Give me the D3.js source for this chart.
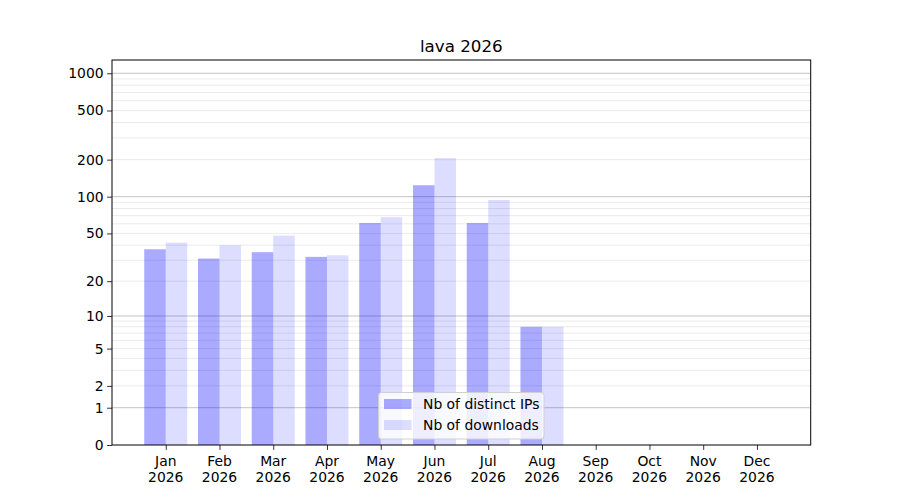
<!DOCTYPE html>
<html>
<head>
<meta charset="utf-8">
<script src="https://cdn.jsdelivr.net/npm/d3@7"></script>
<style>
  body { margin: 0; background: #fff; }
  svg { display: block; font-family: "DejaVu Sans", sans-serif; }
</style>
</head>
<body>
<svg id="chart" width="900" height="500"></svg>
<script>
const title = "lava 2026";
const months = ["Jan", "Feb", "Mar", "Apr", "May", "Jun", "Jul", "Aug", "Sep", "Oct", "Nov", "Dec"];
const yearLabel = "2026";
const distinctIPs = [37, 31, 35, 32, 61, 124, 61, 8, 0, 0, 0, 0];
const downloads = [42, 40, 48, 33, 68, 206, 94, 8, 0, 0, 0, 0];
const yTicks = [0, 1, 2, 5, 10, 20, 50, 100, 200, 500, 1000];
const majorGrid = [1, 10, 100, 1000];
const minorGrid = [2,3,4,5,6,7,8,9,20,30,40,50,60,70,80,90,200,300,400,500,600,700,800,900];
const seriesNames = ["Nb of distinct IPs", "Nb of downloads"];

const pLeft = 112, pRight = 810.7, pTop = 60, pBottom = 445;
const svg = d3.select("#chart");

const x = d3.scaleLinear().domain([-1, 12]).range([pLeft, pRight]);
const y = d3.scaleSymlog().constant(1).domain([0, 1280]).range([pBottom, pTop]);
const barW = 0.4;

// grid
svg.append("g").selectAll("line").data(minorGrid).join("line")
  .attr("x1", pLeft).attr("x2", pRight)
  .attr("y1", d => y(d)).attr("y2", d => y(d))
  .attr("stroke", "#ebebeb").attr("stroke-width", 1);
svg.append("g").selectAll("line").data(majorGrid).join("line")
  .attr("x1", pLeft).attr("x2", pRight)
  .attr("y1", d => y(d)).attr("y2", d => y(d))
  .attr("stroke", "#c4c4c4").attr("stroke-width", 1);

// bars
svg.append("g").selectAll("rect").data(distinctIPs).join("rect")
  .attr("x", (d, i) => x(i - barW))
  .attr("width", (d, i) => x(i) - x(i - barW))
  .attr("y", d => y(d))
  .attr("height", d => y(0) - y(d))
  .attr("fill", "#0000ff").attr("fill-opacity", 1/3);
svg.append("g").selectAll("rect").data(downloads).join("rect")
  .attr("x", (d, i) => x(i))
  .attr("width", (d, i) => x(i + barW) - x(i))
  .attr("y", d => y(d))
  .attr("height", d => y(0) - y(d))
  .attr("fill", "#0000ff").attr("fill-opacity", 0.133);

// axes
const yAxis = d3.axisLeft(y).tickValues(yTicks).tickFormat(d3.format("d")).tickSize(4.9).tickPadding(3.5);
const gy = svg.append("g").attr("transform", `translate(${pLeft},0)`).call(yAxis);
gy.select(".domain").remove();
gy.selectAll("text").attr("font-size", "13.9px").attr("fill", "#000").attr("font-family", "DejaVu Sans");
gy.selectAll("line").attr("stroke", "#000").attr("stroke-width", 0.8);

const xAxis = d3.axisBottom(x).tickValues(d3.range(12)).tickFormat("").tickSize(4.9);
const gx = svg.append("g").attr("transform", `translate(0,${pBottom})`).call(xAxis);
gx.select(".domain").remove();
gx.selectAll("line").attr("stroke", "#000").attr("stroke-width", 0.8);
const lbl = svg.append("g").selectAll("text").data(months).join("text")
  .attr("x", (d, i) => x(i)).attr("y", 466)
  .attr("text-anchor", "middle").attr("font-size", "13.9px").attr("fill", "#000");
lbl.append("tspan").attr("x", (d, i) => x(i)).attr("dy", 0).text(d => d);
lbl.append("tspan").attr("x", (d, i) => x(i)).attr("dy", 16).text(yearLabel);

// frame
svg.append("rect").attr("x", pLeft).attr("y", pTop).attr("width", pRight - pLeft).attr("height", pBottom - pTop)
  .attr("fill", "none").attr("stroke", "#000").attr("stroke-width", 1);

// title
svg.append("text").attr("x", (pLeft + pRight) / 2).attr("y", 52)
  .attr("text-anchor", "middle").attr("font-size", "16.7px").attr("fill", "#000").text(title);

// legend
const lg = svg.append("g");
lg.append("rect").attr("x", 378.5).attr("y", 392.5).attr("width", 165.5).attr("height", 46.5).attr("rx", 3)
  .attr("fill", "#fff").attr("fill-opacity", 0.8).attr("stroke", "#d0d0d0").attr("stroke-width", 1);
const legOps = [1/3, 0.133];
seriesNames.forEach((n, i) => {
  lg.append("rect").attr("x", 384).attr("y", 399 + i * 21).attr("width", 27.5).attr("height", 10)
    .attr("fill", "#0000ff").attr("fill-opacity", legOps[i]);
  lg.append("text").attr("x", 423).attr("y", 409 + i * 21).attr("font-size", "13.9px").attr("fill", "#000").text(n);
});
</script>
</body>
</html>
